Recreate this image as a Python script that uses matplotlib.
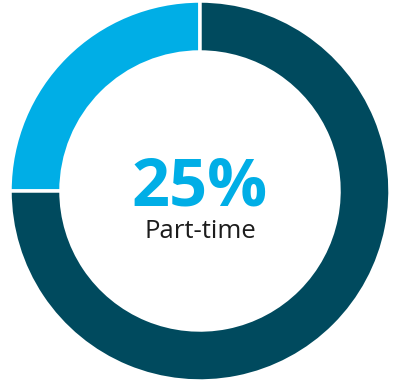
import matplotlib.pyplot as plt

# share of staff by contract type
labels = ["Part-time", "Full-time"]
shares = [25, 75]
colors = ["#00aee6", "#004a5e"]

W, H = 394, 382

fig = plt.figure(figsize=(W / 100, H / 100), dpi=100)
ax = fig.add_axes([0, 0, 1, 1])

ax.pie(
    shares,
    colors=colors,
    startangle=90,
    counterclock=True,
    center=(200, 191),
    radius=190,
    wedgeprops=dict(width=51, edgecolor="white", linewidth=2.5),
)

# pie() resets the limits, so put the pixel frame back afterwards
ax.set_xlim(0, W)
ax.set_ylim(0, H)
ax.set_aspect("equal")
ax.axis("off")

ax.text(200, 194, "%d%%" % shares[0], ha="center", va="center",
        fontsize=48, fontweight="bold", color=colors[0], family="Open Sans")
ax.text(200, 150, labels[0], ha="center", va="center",
        fontsize=18.5, color="#1c1c1c", family="Open Sans")

fig.savefig("out.png", dpi=100)
